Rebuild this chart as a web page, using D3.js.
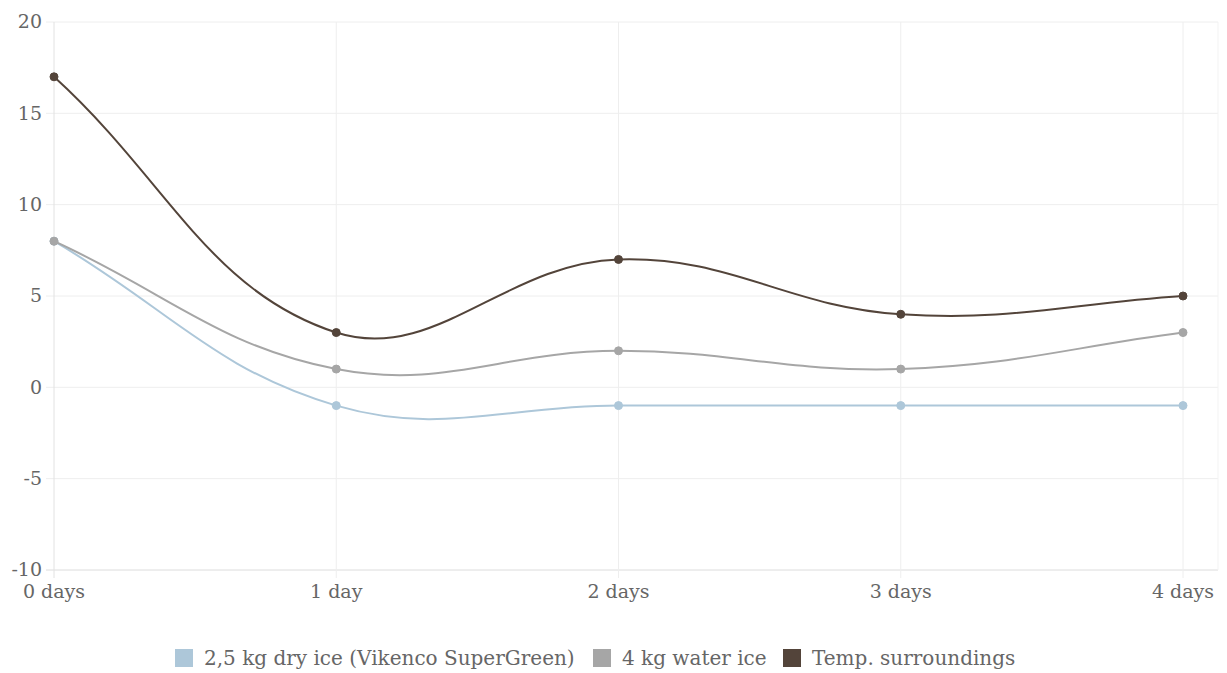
<!DOCTYPE html>
<html><head><meta charset="utf-8">
<script src="https://cdn.jsdelivr.net/npm/d3@7"></script>
<style>
html,body{margin:0;padding:0;background:#fff;}
svg text{font-family:"DejaVu Serif",serif;}
</style></head>
<body>
<svg id="c" width="1227" height="673"></svg>
<script>
const categories = ["0 days","1 day","2 days","3 days","4 days"];
const dryIce = [8,-1,-1,-1,-1];
const waterIce = [8,1,2,1,3];
const surroundings = [17,3,7,4,5];
const yTicks = [-10,-5,0,5,10,15,20];
const seriesNames = ["2,5 kg dry ice (Vikenco SuperGreen)","4 kg water ice","Temp. surroundings"];
const seriesColors = ["#adc7d9","#a6a6a6","#53443a"];
const series = [dryIce, waterIce, surroundings];

(function(){
const svg = d3.select("#c");
const pL = 54, pR = 1218, pT = 22, pB = 570;
const x = d3.scalePoint().domain(categories).range([54,1183]);
const y = d3.scaleLinear().domain([-10,20]).range([pB, pT]);

// Chart.js-like spline curve (tension 0.4)
function ChartJsCurve(context){ this._context = context; }
ChartJsCurve.prototype = {
  areaStart(){}, areaEnd(){},
  lineStart(){ this._pts = []; },
  point(px,py){ this._pts.push([px,py]); },
  lineEnd(){
    const p = this._pts, ctx = this._context, t = 0.4, n = p.length;
    if(!n) return;
    const cps = p.map((cur,i)=>{
      const prev = p[i-1]||cur, next = p[i+1]||cur;
      const d01 = Math.hypot(cur[0]-prev[0],cur[1]-prev[1]);
      const d12 = Math.hypot(next[0]-cur[0],next[1]-cur[1]);
      let s01 = d01/(d01+d12), s12 = d12/(d01+d12);
      if(isNaN(s01)) s01=0; if(isNaN(s12)) s12=0;
      const fa = t*s01, fb = t*s12;
      return {
        prev:[cur[0]-fa*(next[0]-prev[0]), cur[1]-fa*(next[1]-prev[1])],
        next:[cur[0]+fb*(next[0]-prev[0]), cur[1]+fb*(next[1]-prev[1])]
      };
    });
    ctx.moveTo(p[0][0],p[0][1]);
    for(let i=1;i<n;i++){
      const a=cps[i-1].next, b=cps[i].prev;
      ctx.bezierCurveTo(a[0],a[1],b[0],b[1],p[i][0],p[i][1]);
    }
  }
};
const chartCurve = ctx => new ChartJsCurve(ctx);

// grid
const g = svg.append("g");
g.selectAll(".hg").data(yTicks).join("line")
  .attr("x1",pL-8).attr("x2",pR)
  .attr("y1",d=>y(d)).attr("y2",d=>y(d))
  .attr("stroke",d=>d===-10?"#dcdcdc":"#eeeeee").attr("stroke-width",1);
g.selectAll(".vg").data(categories).join("line")
  .attr("x1",d=>x(d)).attr("x2",d=>x(d))
  .attr("y1",pT).attr("y2",pB+8)
  .attr("stroke",(d,i)=>i===0?"#e2e2e2":"#eeeeee").attr("stroke-width",1);
g.append("line").attr("x1",pR).attr("x2",pR).attr("y1",pT).attr("y2",pB)
  .attr("stroke","#f3f3f3");

// y labels
svg.selectAll(".yl").data(yTicks).join("text")
  .attr("x",42).attr("y",d=>y(d)).attr("dy","0.33em")
  .attr("text-anchor","end").attr("font-size",19).attr("fill","#666")
  .text(d=>d);
// x labels
svg.selectAll(".xl").data(categories).join("text")
  .attr("x",d=>x(d)).attr("y",598)
  .attr("text-anchor","middle").attr("font-size",19).attr("fill","#666")
  .text(d=>d);

// lines
const line = d3.line().x((d,i)=>x(categories[i])).y(d=>y(d)).curve(chartCurve);
series.forEach((s,k)=>{
  svg.append("path").datum(s).attr("d",line)
    .attr("fill","none").attr("stroke",seriesColors[k]).attr("stroke-width",2);
  svg.selectAll(".pt"+k).data(s).join("circle")
    .attr("cx",(d,i)=>x(categories[i])).attr("cy",d=>y(d)).attr("r",4)
    .attr("fill",seriesColors[k]).attr("stroke",seriesColors[k]).attr("stroke-width",1);
});

// legend
const legX = [175,593,783];
const lg = svg.selectAll(".lg").data(seriesNames).join("g")
  .attr("transform",(d,i)=>`translate(${legX[i]},649)`);
lg.append("rect").attr("width",18).attr("height",18).attr("fill",(d,i)=>seriesColors[i]);
lg.append("text").attr("x",29).attr("y",9).attr("dy","0.35em")
  .attr("font-size",20).attr("fill","#666").text(d=>d);
})();
</script>
</body></html>
